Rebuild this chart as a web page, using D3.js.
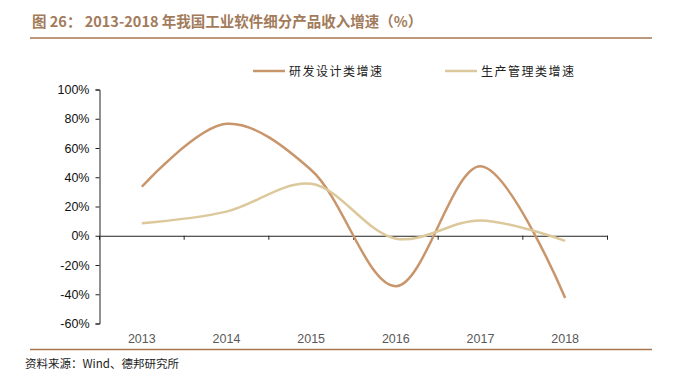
<!DOCTYPE html>
<html>
<head>
<meta charset="utf-8">
<script src="https://cdn.jsdelivr.net/npm/d3@7"></script>
<style>
  html, body { margin: 0; padding: 0; background: #fff; }
  svg { display: block; }
</style>
</head>
<body>
<div id="chart"></div>
<script>
const years = ['2013', '2014', '2015', '2016', '2017', '2018'];
const designGrowth = [33.5, 76.5, 45, -34.5, 47.5, -42.5];
const productionGrowth = [8.5, 16.5, 35.5, -2, 10.5, -3.5];
const yTicks = [100, 80, 60, 40, 20, 0, -20, -40, -60];
const seriesNames = ['研发设计类增速', '生产管理类增速'];
const seriesColors = ['#C9956B', '#DCC89B'];

const width = 685;
const height = 380;
const plot = { left: 99.5, right: 607.5, top: 89.5, bottom: 323.5 };

const svg = d3.select('#chart')
  .append('svg')
  .attr('width', width)
  .attr('height', height)
  .attr('viewBox', `0 0 ${width} ${height}`);

// title and rules
svg.append('text')
  .attr('x', 32)
  .attr('y', 27)
  .attr('fill', '#A27B5B')
  .attr('font-family', '"Noto Sans CJK SC", "Liberation Sans", sans-serif')
  .attr('font-size', 14.5)
  .attr('font-weight', 'bold')
  .text('图 26：  2013-2018 年我国工业软件细分产品收入增速（%）');

svg.append('line')
  .attr('x1', 30).attr('x2', 652)
  .attr('y1', 38).attr('y2', 38)
  .attr('stroke', '#A7764F')
  .attr('stroke-width', 1.5);

svg.append('line')
  .attr('x1', 30).attr('x2', 652)
  .attr('y1', 349.5).attr('y2', 349.5)
  .attr('stroke', '#A7764F')
  .attr('stroke-width', 1.5);

svg.append('text')
  .attr('x', 25)
  .attr('y', 368)
  .attr('fill', '#222')
  .attr('font-family', '"Noto Sans CJK SC", "Liberation Sans", sans-serif')
  .attr('font-size', 11.5)
  .text('资料来源：Wind、德邦研究所');

// scales
const x = d3.scaleBand()
  .domain(years)
  .range([plot.left, plot.right]);

const y = d3.scaleLinear()
  .domain([-60, 100])
  .range([plot.bottom, plot.top]);

// y axis
svg.append('g')
  .attr('transform', `translate(${plot.left},0)`)
  .call(d3.axisLeft(y).tickValues(yTicks).tickSizeOuter(0).tickSize(4).tickPadding(6)
    .tickFormat((d) => d + '%'))
  .call((g) => g.select('.domain').attr('stroke', '#222'))
  .call((g) => g.selectAll('line').attr('stroke', '#222'))
  .call((g) => g.selectAll('text')
    .attr('fill', '#111')
    .attr('font-family', '"Liberation Sans", Arial, sans-serif')
    .attr('font-size', 12.5));

// x axis at zero
svg.append('g')
  .attr('transform', `translate(0,${y(0)})`)
  .call(d3.axisBottom(x).tickSizeOuter(0).tickSize(0).tickFormat(() => ''))
  .call((g) => g.select('.domain').attr('stroke', '#222'))
  .call((g) => g.selectAll('.tick').remove());

svg.append('g')
  .selectAll('line')
  .data(years.concat(['end']))
  .enter()
  .append('line')
  .attr('x1', (d, i) => plot.left + i * x.bandwidth())
  .attr('x2', (d, i) => plot.left + i * x.bandwidth())
  .attr('y1', y(0))
  .attr('y2', y(0) + 4)
  .attr('stroke', '#222');

svg.append('g')
  .selectAll('text')
  .data(years)
  .enter()
  .append('text')
  .attr('x', (d) => x(d) + x.bandwidth() / 2)
  .attr('y', 343)
  .attr('text-anchor', 'middle')
  .attr('fill', '#595959')
  .attr('font-family', '"Liberation Sans", Arial, sans-serif')
  .attr('font-size', 12.5)
  .text((d) => d);

// lines
const line = d3.line()
  .x((d, i) => x(years[i]) + x.bandwidth() / 2)
  .y((d) => y(d))
  .curve(d3.curveCatmullRom.alpha(0.5));

[designGrowth, productionGrowth].forEach((values, i) => {
  svg.append('path')
    .datum(values)
    .attr('fill', 'none')
    .attr('stroke', seriesColors[i])
    .attr('stroke-width', 2.5)
    .attr('d', line);
});

// legend
const legendX = [253, 445];
seriesNames.forEach((name, i) => {
  svg.append('line')
    .attr('x1', legendX[i]).attr('x2', legendX[i] + 32)
    .attr('y1', 71).attr('y2', 71)
    .attr('stroke', seriesColors[i])
    .attr('stroke-width', 2.5);
  svg.append('text')
    .attr('x', legendX[i] + 36)
    .attr('y', 75.5)
    .attr('fill', '#222')
    .attr('font-family', '"Noto Sans CJK SC", sans-serif')
    .attr('font-size', 12)
    .attr('letter-spacing', 1.5)
    .text(name);
});
</script>
</body>
</html>
